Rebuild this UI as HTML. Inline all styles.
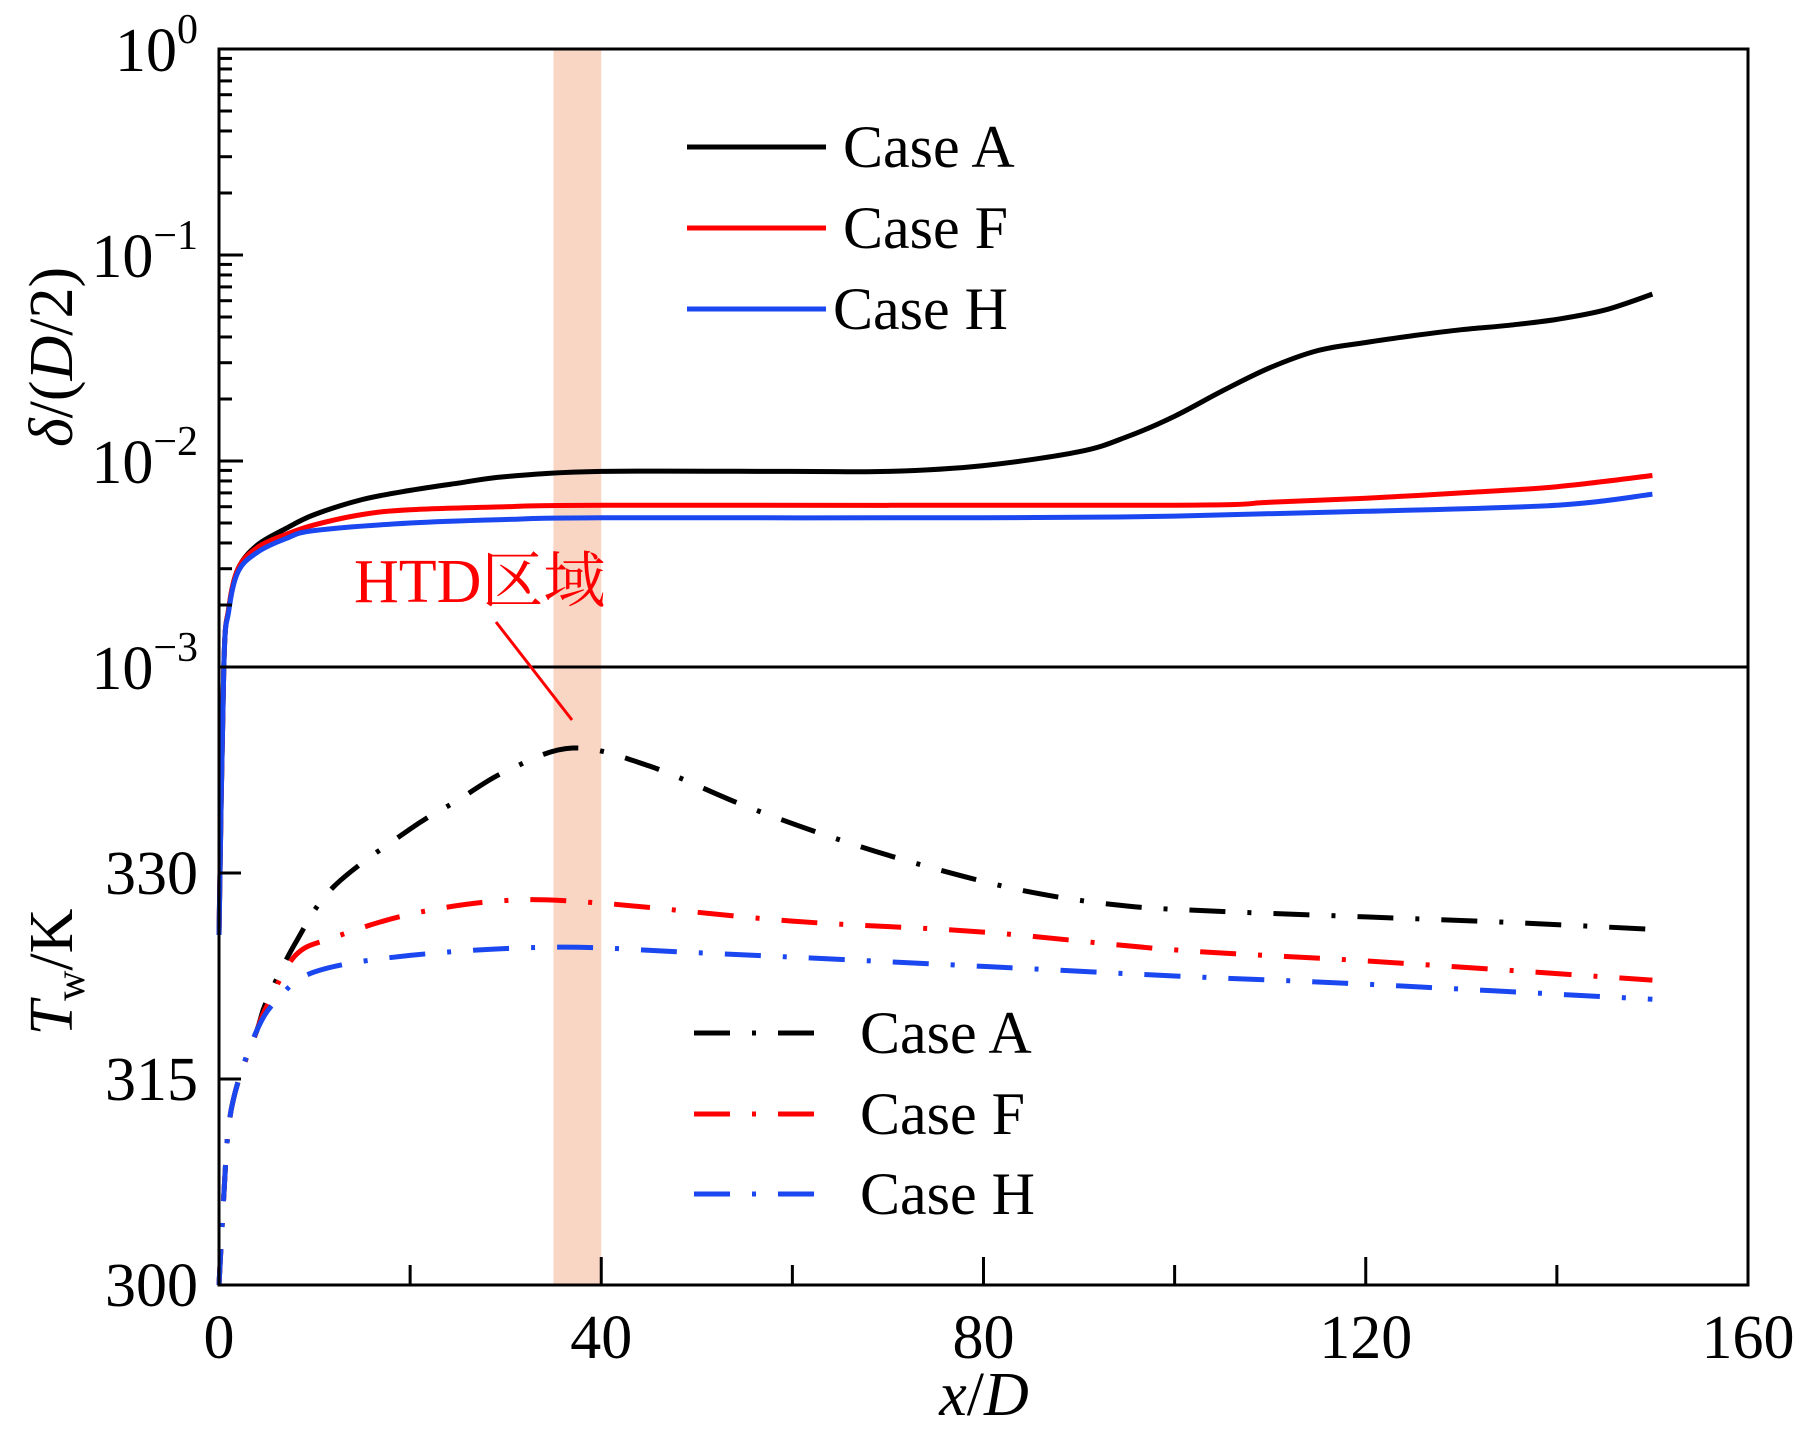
<!DOCTYPE html>
<html><head><meta charset="utf-8"><style>
html,body{margin:0;padding:0;background:#fff;}
svg{display:block;font-family:"Liberation Serif","Noto Serif CJK SC",serif;}
</style></head><body>
<svg id="chart" width="1804" height="1437" viewBox="0 0 1804 1437" xmlns="http://www.w3.org/2000/svg"></svg>
<script>
const xTicks=[0,40,80,120,160];
const xMinor=[20,60,100,140];
const tTicks=[300,315,330];
const xA=[0,0.5,1,2,4,7,10,15,20,25,30,40,60,70,80,90,95,100,105,110,115,120,125,130,135,140,145,150];
const dA=[5e-5,1.0e-3,1.9e-3,3.0e-3,3.9e-3,4.7e-3,5.5e-3,6.5e-3,7.2e-3,7.8e-3,8.4e-3,8.9e-3,8.9e-3,8.9e-3,9.5e-3,1.11e-2,1.31e-2,1.65e-2,2.19e-2,2.84e-2,3.44e-2,3.76e-2,4.06e-2,4.34e-2,4.56e-2,4.87e-2,5.4e-2,6.46e-2];
const xF=[0,0.5,1,2,4,7,10,15,20,30,40,100,110,120,130,140,150];
const dF=[5e-5,1.0e-3,1.9e-3,3.0e-3,3.8e-3,4.4e-3,4.9e-3,5.5e-3,5.8e-3,6.0e-3,6.1e-3,6.1e-3,6.3e-3,6.6e-3,7.0e-3,7.5e-3,8.5e-3];
const xH=[0,0.5,1,2,4,7,10,20,30,40,80,100,120,140,150];
const dH=[5e-5,1.0e-3,1.85e-3,2.9e-3,3.6e-3,4.2e-3,4.6e-3,5.0e-3,5.2e-3,5.3e-3,5.3e-3,5.4e-3,5.7e-3,6.1e-3,6.9e-3];
const xTA=[0,0.5,1,2,4,5,8,12,20,25,30,37,45,55,65,75,85,95,105,120,135,150];
const tA=[300,306.5,311.5,314.8,318.6,320.7,324.9,329,333.2,335.3,337.4,339.1,337.8,334.9,332.4,330.3,328.6,327.6,327.2,326.8,326.4,325.9];
const xTF=[0,0.5,1,2,4,5,8,12,20,30,40,60,80,100,120,150];
const tF=[300,306.5,311.5,314.8,318.6,320.3,324,325.3,327,328,327.8,326.5,325.7,324.4,323.6,322.2];
const xTH=[0,0.5,1,2,4,6,10,20,35,50,80,100,120,150];
const tH=[300,306.5,311.5,314.8,318.6,320.7,322.8,324,324.6,324.2,323.2,322.5,321.9,320.8];

const X0=219,X1=1748,YT=49,YM=667,YB=1285;
const NS="http://www.w3.org/2000/svg";
const svg=document.getElementById('chart');
const sx=v=>X0+(X1-X0)*v/160;
const sd=v=>YM-(Math.log10(v)+3)/3*(YM-YT);
const st=v=>YB-(v-300)/45*(YB-YM);
function mk(tag,attrs,parent){const e=document.createElementNS(NS,tag);for(const k in attrs)e.setAttribute(k,attrs[k]);(parent||svg).appendChild(e);return e;}

const band=mk('rect',{x:sx(35),y:YT,width:sx(40)-sx(35),height:YB-YT,fill:'#f9d6c4'});



function smoothPath(P){
  let d='M'+P[0][0].toFixed(1)+','+P[0][1].toFixed(1);
  for(let i=0;i<P.length-1;i++){
    const p0=P[i-1]||P[i],p1=P[i],p2=P[i+1],p3=P[i+2]||P[i+1];
    let c1x=p1[0]+(p2[0]-p0[0])/6,c1y=p1[1]+(p2[1]-p0[1])/6;
    let c2x=p2[0]-(p3[0]-p1[0])/6,c2y=p2[1]-(p3[1]-p1[1])/6;
    c1x=Math.min(Math.max(c1x,p1[0]),p2[0]);c2x=Math.min(Math.max(c2x,p1[0]),p2[0]);
    d+=' C'+c1x.toFixed(1)+','+c1y.toFixed(1)+' '+c2x.toFixed(1)+','+c2y.toFixed(1)+' '+p2[0].toFixed(1)+','+p2[1].toFixed(1);
  }
  return d;
}
function line(xs,ys,f,color,dash,name){
  const P=xs.map((x,i)=>[sx(x),f(ys[i])]);
  const p=mk('path',{d:smoothPath(P),fill:'none',stroke:color,'stroke-width':5,'stroke-linejoin':'round'});
  if(dash)p.setAttribute('stroke-dasharray',dash);
  
  
}
const DD='36 22 4 22';
line(xTA,tA,st,'#000',DD,'tw-case-a');
line(xTF,tF,st,'#f00',DD,'tw-case-f');
line(xTH,tH,st,'#1a47f0',DD,'tw-case-h');
line(xA,dA,sd,'#000',null,'delta-case-a');
line(xF,dF,sd,'#f00',null,'delta-case-f');
line(xH,dH,sd,'#1a47f0',null,'delta-case-h');

const fr=mk('rect',{x:X0,y:YT,width:X1-X0,height:YB-YT,fill:'none',stroke:'#000','stroke-width':3});


const mid=mk('line',{x1:X0,x2:X1,y1:YM,y2:YM,stroke:'#000','stroke-width':3});



for(let dec=-3;dec<0;dec++){for(let m=1;m<10;m++){const v=m*Math.pow(10,dec);const y=sd(v);
  const t=mk('line',{x1:X0,x2:X0+(m==1?24:13),y1:y,y2:y,stroke:'#000','stroke-width':3});
  
  }}
const expo=['0','−1','−2','−3'];
[0,-1,-2,-3].forEach((e,i)=>{const y=sd(Math.pow(10,e));
  const tx=mk('text',{x:198,y:y+22,'text-anchor':'end','font-size':62});
  
  
  tx.appendChild(document.createTextNode('10'));
  const s=mk('tspan',{dy:-28,'font-size':42},tx);s.textContent=expo[i];});
tTicks.forEach(v=>{const y=st(v);
  if(v>300){const t=mk('line',{x1:X0,x2:X0+22,y1:y,y2:y,stroke:'#000','stroke-width':3});
  
  }
  const tx=mk('text',{x:198,y:y+21,'text-anchor':'end','font-size':62});
  
  
  tx.textContent=v;});
xTicks.forEach(v=>{const x=sx(v);
  const t=mk('line',{x1:x,x2:x,y1:YB,y2:YB-28,stroke:'#000','stroke-width':3});
  
  
  const tx=mk('text',{x:x,y:1358,'text-anchor':'middle','font-size':62});
  
  
  tx.textContent=v;});
xMinor.forEach(v=>{const x=sx(v);
  const t=mk('line',{x1:x,x2:x,y1:YB,y2:YB-20,stroke:'#000','stroke-width':3});
  
  });

const names=['Case A','Case F','Case H'];const cols=['#000','#f00','#1a47f0'];
const ly1=[147,228,309];const lx1=[843,843,833];
const ly2=[1033,1114,1194];
names.forEach((n,i)=>{
  const l=mk('line',{x1:687,x2:826,y1:ly1[i],y2:ly1[i],stroke:cols[i],'stroke-width':5});
  
  
  const t=mk('text',{x:lx1[i],y:ly1[i]+20,'font-size':60});
  
  
  t.textContent=n;
  const l2=mk('line',{x1:694,x2:833,y1:ly2[i],y2:ly2[i],stroke:cols[i],'stroke-width':5,'stroke-dasharray':'36 22 4 22'});
  
  
  const t2=mk('text',{x:860,y:ly2[i]+20,'font-size':60});
  
  
  t2.textContent=n;
});
</script>
<svg style="position:absolute;left:0;top:0" width="1804" height="1437">
<text x="354" y="602" font-size="62" fill="#f00" font-family="Liberation Serif, Noto Serif CJK SC, serif">HTD区域</text>
<line x1="496" y1="622" x2="572" y2="720" stroke="#f00" stroke-width="3"/>
<text x="984" y="1415" font-size="62" text-anchor="middle" font-style="italic" font-family="Liberation Serif, serif">x<tspan font-style="normal">/</tspan>D</text>
<text transform="translate(72,357) rotate(-90)" font-size="62" text-anchor="middle" font-family="Liberation Serif, serif"><tspan font-style="italic">δ</tspan>/(<tspan font-style="italic">D</tspan>/2)</text>
<text transform="translate(72,972) rotate(-90)" font-size="62" text-anchor="middle" font-family="Liberation Serif, serif"><tspan font-style="italic">T</tspan><tspan font-size="42" dy="12">w</tspan><tspan dy="-12">/K</tspan></text>
</svg>
</body></html>
